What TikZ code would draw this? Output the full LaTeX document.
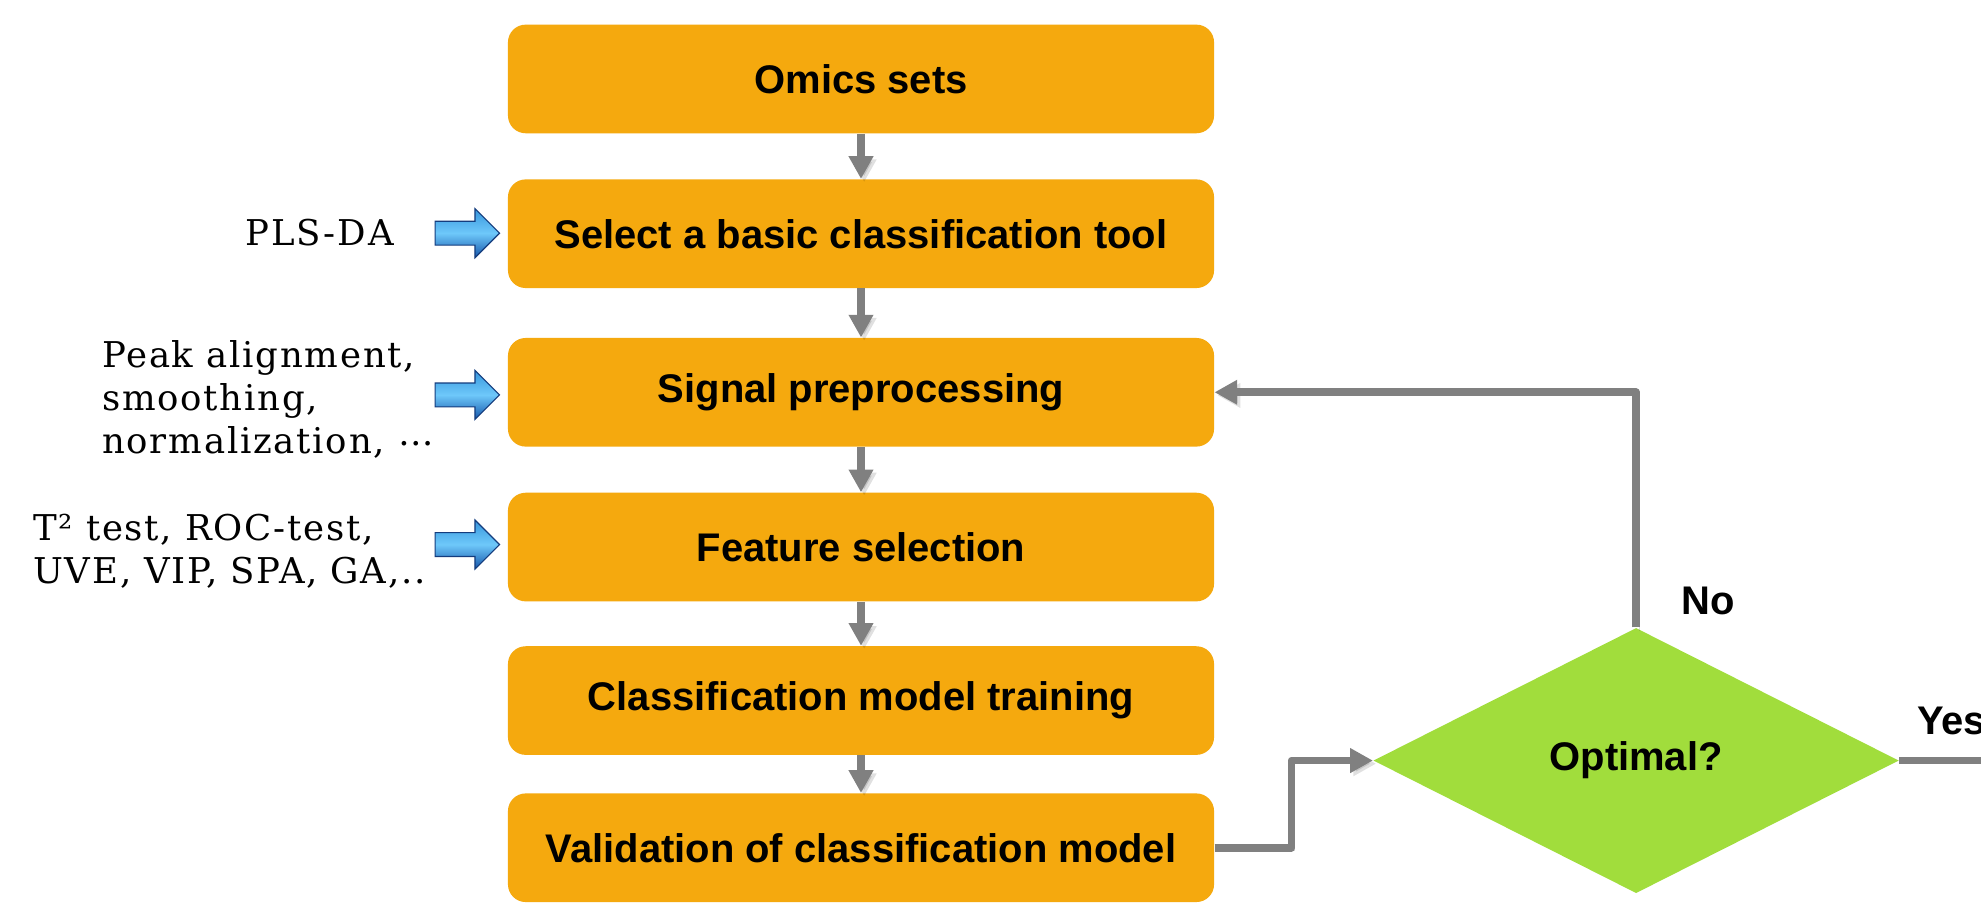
\documentclass[tikz,border=0pt]{standalone}
\usepackage{fontspec}
\setmainfont{Liberation Sans}
\newfontfamily\sidefont{DejaVu Serif}[LetterSpace=5]
\usetikzlibrary{arrows.meta,shapes.geometric,shapes.arrows}
\definecolor{boxorange}{RGB}{245,169,14}
\definecolor{diagreen}{RGB}{161,221,60}
\definecolor{linegray}{RGB}{128,128,128}
\definecolor{bluetop}{RGB}{55,150,220}
\definecolor{bluemid}{RGB}{110,200,250}
\definecolor{bluebot}{RGB}{20,85,170}
\definecolor{blueedge}{RGB}{20,60,125}
\begin{document}
\begin{tikzpicture}[x=0.02cm,y=-0.02cm,
  stepbox/.style={rectangle, rounded corners=0.28cm, fill=boxorange,
    minimum width=11.18cm, minimum height=1.72cm, inner sep=0,
    font=\fontsize{18}{21}\selectfont\bfseries},
  decbox/.style={diamond, aspect=2, fill=diagreen, minimum width=8.32cm,
    minimum height=4.2cm, inner sep=0, font=\fontsize{18}{21}\selectfont\bfseries},
  conn/.style={draw=linegray, line width=0.12cm, line join=round,
    -{Triangle[length=0.36cm,width=0.37cm]},
    preaction={draw=black, opacity=0.12, transform canvas={shift={(0.05cm,-0.05cm)}}}},
  sidetext/.style={font=\sidefont\fontsize{16}{19.3}\selectfont, inner sep=0, align=left},
  lbl/.style={font=\fontsize{18}{21}\selectfont\bfseries, inner sep=0},
  bluearrow/.style={single arrow, single arrow head extend=0.2cm,
    minimum height=1.02cm, inner sep=0.18cm, anchor=tip,
    top color=bluetop, bottom color=bluebot, middle color=bluemid,
    draw=blueedge, line width=0.5pt}]
\clip (0,0) rectangle (1568,719);
\fill[white] (0,0) rectangle (1568,719);

\node[stepbox] (omics) at (681.5,62.5) {Omics sets};
\node[stepbox] (select) at (681.5,185) {Select a basic classification tool};
\node[stepbox] (signal) at (681.5,310.5) {Signal preprocessing};
\node[stepbox] (feature) at (681.5,433) {Feature selection};
\node[stepbox] (train) at (681.5,554.5) {Classification model training};
\node[stepbox] (valid) at (681.5,671) {Validation of classification model};

\node[decbox] (opt) at (1295,602) {Optimal?};

\draw[conn] (omics.south) -- (select.north);
\draw[conn] (select.south) -- (signal.north);
\draw[conn] (signal.south) -- (feature.north);
\draw[conn] (feature.south) -- (train.north);
\draw[conn] (train.south) -- (valid.north);
\draw[conn] (valid.east) -- ++(61,0) |- (opt.west);
\draw[conn] (opt.north) |- (signal.east);
\coordinate (yesend) at (1587,602);
\draw[conn] (opt.east) -- (yesend);

\node[lbl] (no) at (1352,476) {No};
\node[lbl, anchor=west] (yes) at (1517,571) {Yes};

\node[bluearrow] (a1) at (396,184.6) {};
\node[bluearrow] (a2) at (396,312.6) {};
\node[bluearrow] (a3) at (396,431) {};

\node[sidetext, anchor=base west] (t1) at (194,194) {PLS-DA};
\node[sidetext, anchor=west] (t2) at (80.5,316) {Peak alignment,\\smoothing,\\normalization, \raisebox{0.22em}{…}};
\node[sidetext, anchor=west] (t3) at (26,436) {T² test, ROC-test,\\UVE, VIP, SPA, GA,..};
\end{tikzpicture}
\end{document}
